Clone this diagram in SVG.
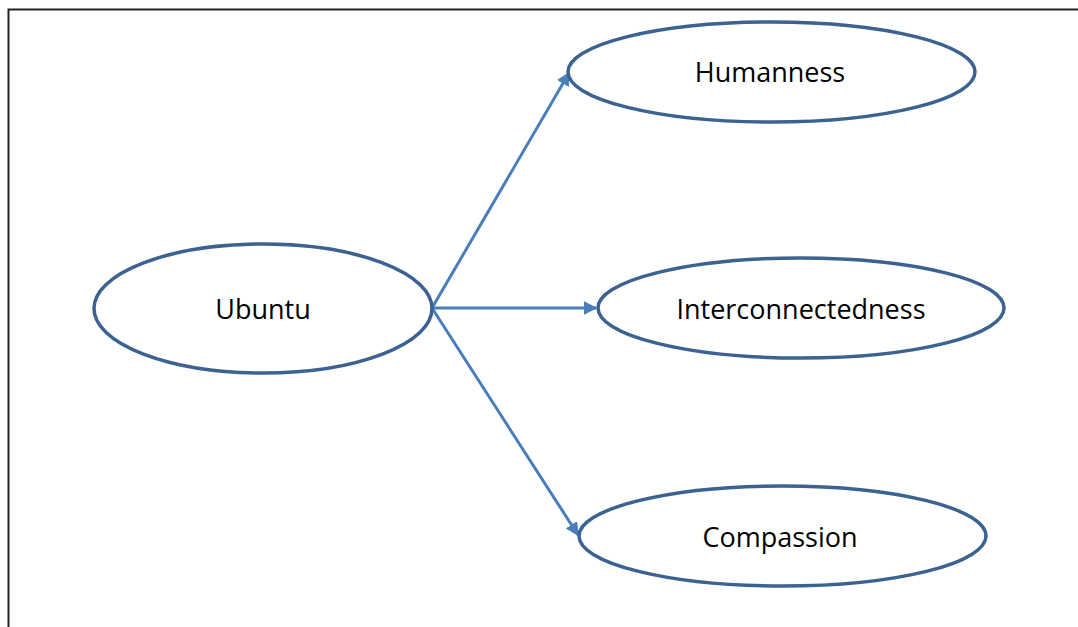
<svg xmlns="http://www.w3.org/2000/svg" width="1078" height="627" viewBox="0 0 1078 627">
  <style>
    .node ellipse { fill: #ffffff; stroke: #3b6290; stroke-width: 3.5; }
    .node text { font-family: "Open Sans", "Liberation Sans", sans-serif; font-size: 27px; fill: #000000; text-anchor: middle; dominant-baseline: central; }
    .edge { stroke: #4a7ebb; stroke-width: 3; fill: none; marker-end: url(#arrow); }
  </style>
  <defs>
    <marker id="arrow" viewBox="0 0 10 10" refX="9" refY="5" markerWidth="4.5" markerHeight="4.5" orient="auto" markerUnits="strokeWidth">
      <path d="M0,0 L10,5 L0,10 z" fill="#4a7ebb"/>
    </marker>
  </defs>
  <rect width="1078" height="627" fill="#ffffff"/>
  <!-- frame -->
  <path d="M8.5,627 L8.5,9.5 L1078,9.5" fill="none" stroke="#222222" stroke-width="2"/>

  <g id="connectors">
    <line class="edge" x1="432" y1="308" x2="569" y2="73"/>
    <line class="edge" x1="432" y1="308" x2="596" y2="308"/>
    <line class="edge" x1="432" y1="308" x2="578" y2="535"/>
  </g>

  <g id="ubuntu" class="node">
    <ellipse cx="263" cy="308.5" rx="169" ry="64.5"/>
    <text x="263" y="308">Ubuntu</text>
  </g>
  <g id="humanness" class="node">
    <ellipse cx="771.5" cy="72" rx="203.5" ry="50"/>
    <text x="770" y="71">Humanness</text>
  </g>
  <g id="interconnectedness" class="node">
    <ellipse cx="801" cy="308" rx="203" ry="50"/>
    <text x="801" y="308">Interconnectedness</text>
  </g>
  <g id="compassion" class="node">
    <ellipse cx="782.5" cy="536" rx="203.5" ry="50"/>
    <text x="780" y="536">Compassion</text>
  </g>
</svg>
